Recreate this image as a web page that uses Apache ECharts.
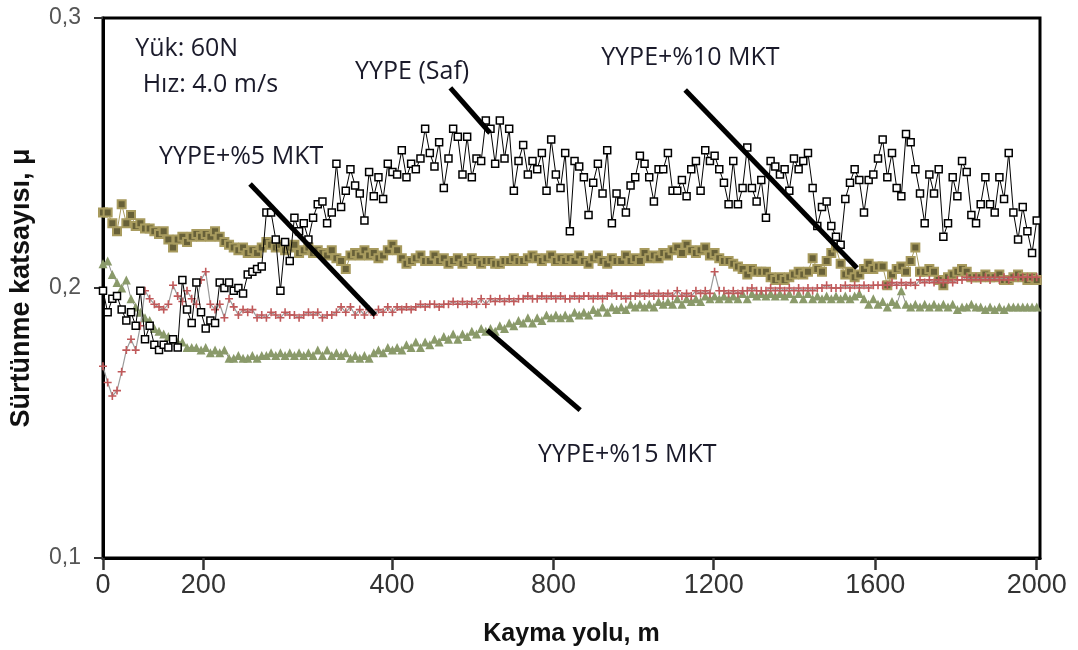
<!DOCTYPE html>
<html><head><meta charset="utf-8">
<script src="https://cdn.jsdelivr.net/npm/echarts@6/dist/echarts.min.js"></script>
<style>html,body{margin:0;padding:0;background:#fff}#c{width:1078px;height:650px}</style>
</head><body><div id="c"></div>
<script>
// Axis tick labels and where they sit on the (picture-linear) distance axis
const xTickLabels = ['0','200','400','800','1200','1600','2000'];
const xTickPositions = [0, 215, 619, 965, 1308, 1654, 2000];
const yTickValues = [0.1, 0.2, 0.3];
const distanceStep = 10; // sampling distance between recorded points (axis units)

const seriesNames = ['YYPE (Saf)', 'YYPE+%5 MKT', 'YYPE+%10 MKT', 'YYPE+%15 MKT'];

const frictionSaf = [
0.199,0.191,0.196,0.197,0.192,0.188,0.191,0.186,0.199,0.181,
0.186,0.179,0.177,0.179,0.178,0.181,0.178,0.203,0.192,0.187,
0.202,0.191,0.185,0.188,0.187,0.202,0.200,0.202,0.199,0.200,
0.198,0.205,0.206,0.207,0.208,0.228,0.228,0.218,0.199,0.217,
0.210,0.226,0.221,0.224,0.218,0.226,0.231,0.232,0.224,0.228,
0.246,0.230,0.236,0.244,0.238,0.235,0.225,0.243,0.234,0.241,
0.233,0.246,0.243,0.242,0.251,0.241,0.246,0.244,0.248,0.259,
0.250,0.245,0.254,0.237,0.248,0.259,0.256,0.242,0.256,0.241,
0.248,0.247,0.262,0.259,0.246,0.262,0.248,0.259,0.236,0.247,
0.253,0.242,0.247,0.244,0.250,0.236,0.255,0.242,0.237,0.250,
0.221,0.247,0.245,0.241,0.227,0.239,0.246,0.235,0.251,0.224,
0.235,0.232,0.228,0.238,0.241,0.249,0.246,0.241,0.232,0.244,
0.244,0.250,0.236,0.236,0.240,0.234,0.244,0.247,0.236,0.251,
0.247,0.249,0.244,0.239,0.231,0.247,0.231,0.237,0.252,0.237,
0.232,0.240,0.226,0.247,0.245,0.242,0.244,0.236,0.248,0.244,
0.247,0.250,0.237,0.223,0.230,0.232,0.223,0.219,0.216,0.233,
0.239,0.244,0.240,0.228,0.240,0.242,0.248,0.255,0.241,0.250,
0.237,0.234,0.257,0.254,0.244,0.235,0.224,0.242,0.235,0.244,
0.219,0.224,0.241,0.234,0.247,0.243,0.227,0.224,0.231,0.241,
0.231,0.228,0.241,0.233,0.250,0.228,0.218,0.230,0.221,0.213,0.225];

const friction5 = [
0.171,0.165,0.160,0.162,0.169,0.177,0.181,0.177,0.186,0.199,
0.196,0.194,0.193,0.192,0.194,0.201,0.197,0.195,0.199,0.196,
0.194,0.203,0.206,0.194,0.192,0.194,0.189,0.196,0.193,0.190,
0.192,0.191,0.192,0.189,0.190,0.189,0.191,0.190,0.189,0.191,
0.190,0.190,0.189,0.190,0.191,0.190,0.191,0.189,0.190,0.190,
0.191,0.193,0.191,0.193,0.190,0.192,0.190,0.192,0.190,0.192,
0.191,0.193,0.191,0.193,0.192,0.193,0.192,0.193,0.194,0.193,
0.194,0.194,0.193,0.194,0.194,0.195,0.194,0.195,0.194,0.195,
0.194,0.196,0.194,0.196,0.195,0.196,0.195,0.196,0.195,0.196,
0.196,0.197,0.196,0.196,0.197,0.196,0.197,0.196,0.197,0.196,
0.196,0.197,0.196,0.197,0.197,0.196,0.197,0.196,0.197,0.198,
0.197,0.197,0.196,0.197,0.197,0.198,0.197,0.198,0.197,0.198,
0.197,0.198,0.197,0.199,0.197,0.198,0.197,0.199,0.198,0.199,
0.198,0.206,0.199,0.199,0.198,0.199,0.198,0.199,0.199,0.200,
0.199,0.199,0.199,0.200,0.199,0.200,0.199,0.200,0.199,0.200,
0.199,0.200,0.199,0.200,0.200,0.201,0.200,0.200,0.200,0.201,
0.200,0.201,0.200,0.201,0.200,0.201,0.201,0.201,0.201,0.202,
0.201,0.202,0.201,0.202,0.201,0.203,0.202,0.203,0.202,0.203,
0.202,0.203,0.202,0.203,0.203,0.204,0.203,0.204,0.203,0.204,
0.203,0.204,0.203,0.204,0.203,0.204,0.204,0.204,0.204,0.204,0.204];

const friction10 = [
0.228,0.228,0.224,0.221,0.231,0.224,0.227,0.223,0.224,0.222,
0.222,0.221,0.220,0.221,0.218,0.215,0.218,0.219,0.217,0.219,
0.220,0.219,0.220,0.219,0.221,0.219,0.217,0.216,0.215,0.214,
0.215,0.213,0.214,0.213,0.215,0.217,0.216,0.215,0.216,0.214,
0.215,0.216,0.213,0.214,0.215,0.213,0.214,0.213,0.212,0.214,
0.211,0.210,0.207,0.212,0.213,0.212,0.214,0.212,0.213,0.211,
0.212,0.214,0.216,0.214,0.211,0.209,0.210,0.211,0.212,0.210,
0.210,0.212,0.210,0.211,0.209,0.210,0.211,0.209,0.210,0.211,
0.210,0.209,0.210,0.210,0.209,0.209,0.210,0.210,0.211,0.210,
0.210,0.211,0.212,0.211,0.210,0.211,0.212,0.210,0.211,0.210,
0.211,0.210,0.212,0.210,0.209,0.211,0.212,0.210,0.209,0.211,
0.210,0.210,0.212,0.210,0.211,0.210,0.213,0.211,0.212,0.211,
0.213,0.212,0.214,0.215,0.213,0.216,0.214,0.213,0.214,0.215,
0.212,0.213,0.211,0.210,0.210,0.209,0.208,0.207,0.205,0.207,
0.206,0.206,0.206,0.204,0.203,0.204,0.203,0.204,0.205,0.206,
0.205,0.206,0.211,0.207,0.206,0.210,0.213,0.215,0.209,0.205,
0.206,0.204,0.205,0.207,0.209,0.207,0.208,0.208,0.201,0.205,
0.207,0.208,0.206,0.210,0.215,0.206,0.206,0.207,0.206,0.203,
0.201,0.204,0.205,0.206,0.207,0.206,0.204,0.204,0.204,0.205,
0.204,0.204,0.205,0.203,0.203,0.204,0.205,0.204,0.203,0.204,0.203];

const friction15 = [
0.209,0.210,0.205,0.202,0.200,0.203,0.196,0.193,0.191,0.189,
0.188,0.185,0.184,0.183,0.182,0.181,0.180,0.180,0.178,0.178,
0.178,0.177,0.178,0.176,0.177,0.176,0.177,0.174,0.174,0.175,
0.174,0.174,0.175,0.174,0.175,0.175,0.176,0.175,0.176,0.175,
0.176,0.175,0.176,0.175,0.176,0.175,0.177,0.175,0.177,0.175,
0.176,0.175,0.176,0.174,0.175,0.174,0.175,0.174,0.176,0.177,
0.176,0.178,0.177,0.178,0.177,0.179,0.178,0.180,0.178,0.180,
0.179,0.181,0.180,0.182,0.181,0.183,0.181,0.183,0.182,0.184,
0.183,0.185,0.184,0.185,0.184,0.186,0.185,0.187,0.186,0.188,
0.187,0.189,0.187,0.189,0.188,0.190,0.189,0.190,0.189,0.190,
0.189,0.191,0.190,0.191,0.190,0.192,0.191,0.193,0.191,0.193,
0.192,0.193,0.192,0.194,0.193,0.194,0.193,0.194,0.193,0.195,
0.194,0.195,0.194,0.196,0.194,0.196,0.195,0.196,0.195,0.197,
0.196,0.197,0.196,0.197,0.196,0.197,0.196,0.198,0.196,0.198,
0.197,0.198,0.197,0.198,0.197,0.198,0.197,0.198,0.196,0.198,
0.196,0.198,0.196,0.197,0.196,0.197,0.196,0.197,0.196,0.197,
0.196,0.197,0.198,0.196,0.194,0.196,0.194,0.195,0.193,0.195,
0.194,0.199,0.194,0.193,0.194,0.193,0.194,0.193,0.194,0.193,
0.194,0.193,0.194,0.192,0.193,0.193,0.194,0.193,0.193,0.192,
0.193,0.192,0.193,0.192,0.193,0.193,0.193,0.193,0.193,0.193,0.193];

// Text annotations (data coordinates of left / middle of text)
const annotationTexts = ['Yük: 60N', 'Hız: 4.0 m/s', 'YYPE (Saf)', 'YYPE+%10 MKT', 'YYPE+%5 MKT', 'YYPE+%15 MKT'];
const annotationAt = [[69,0.2885],[85,0.2752],[540,0.2800],[1067,0.2852],[120,0.2485],[932,0.1381]];
// Leader lines (data coordinates of both ends)
const leaderLines = [
  [[744,0.2741],[829,0.2574]],
  [[1247,0.2733],[1615,0.2074]],
  [[315,0.2385],[583,0.1900]],
  [[823,0.1844],[1022,0.1548]]
];

function pairs(arr){ return arr.map((v,i)=>[i*distanceStep, v]); }

const chart = echarts.init(document.getElementById('c'), null, {renderer:'canvas'});
const crossPath = 'path://M4,0H6V4H10V6H6V10H4V6H0V4H4Z';

const series = [
  {name: seriesNames[2], type:'line', data: pairs(friction10), symbol:'rect', symbolSize:8,
   itemStyle:{color:'#676038', borderColor:'#a89b5e', borderWidth:2},
   lineStyle:{color:'#a89b5e', width:1}, z:2},
  {name: seriesNames[3], type:'line', data: pairs(friction15), symbol:'triangle', symbolSize:9,
   itemStyle:{color:'#8a9a6a'}, lineStyle:{color:'#8c8c8c', width:1}, z:3},
  {name: seriesNames[1], type:'line', data: pairs(friction5), symbol: crossPath, symbolSize:8,
   itemStyle:{color:'#c0595a'}, lineStyle:{color:'#9a9a9a', width:1.2}, z:4},
  {name: seriesNames[0], type:'line', data: pairs(frictionSaf), symbol:'rect', symbolSize:7,
   itemStyle:{color:'#ffffff', borderColor:'#000', borderWidth:1.5},
   lineStyle:{color:'#000', width:1}, z:5}
];
leaderLines.forEach(seg => series.push({type:'line', data: seg, symbol:'none', silent:true,
   lineStyle:{color:'#000', width:5}, z:6}));

chart.setOption({
  animation:false,
  backgroundColor:'#fff',
  grid:{left:103, right:38, top:18, bottom:92, outerBoundsMode:'none', containLabel:false,
        show:true, borderColor:'#000', borderWidth:3},
  xAxis:{type:'value', min:0, max:2007,
    name:'Kayma yolu, m', nameLocation:'middle', nameGap:64,
    nameTextStyle:{fontFamily:'Liberation Sans', fontWeight:'bold', fontSize:25, color:'#111'},
    axisLine:{show:true, lineStyle:{color:'#000', width:3}},
    axisTick:{show:true, length:12, inside:false, customValues: xTickPositions, lineStyle:{color:'#333', width:2.5}},
    axisLabel:{customValues: xTickPositions, margin:14, fontFamily:'Liberation Sans', fontSize:27, color:'#333',
      formatter: v => { const k = xTickPositions.findIndex(p => Math.abs(p - v) < 0.5); return k >= 0 ? xTickLabels[k] : ''; }},
    splitLine:{show:false}},
  yAxis:{type:'value', min:yTickValues[0], max:yTickValues[yTickValues.length-1], interval:0.1,
    name:'Sürtünme katsayısı, μ', nameLocation:'middle', nameGap:68,
    nameTextStyle:{fontFamily:'Liberation Sans', fontWeight:'bold', fontSize:27, color:'#111'},
    axisLine:{show:true, lineStyle:{color:'#000', width:3}},
    axisTick:{show:true, length:9, lineStyle:{color:'#333', width:2}},
    axisLabel:{margin:22, fontFamily:'Liberation Sans', fontSize:23, color:'#555',
      formatter: v => v.toFixed(1).replace('.', ',')},
    splitLine:{show:false}},
  series: series
});

const graphics = annotationTexts.map((t,i) => {
  const p = chart.convertToPixel({xAxisIndex:0, yAxisIndex:0}, annotationAt[i]);
  return {type:'text', x:p[0], y:p[1], z:100,
    style:{text:t, fontFamily:'Open Sans', fontSize:25, fill:'#1a1a2a', textAlign:'left', textVerticalAlign:'middle'}};
});
chart.setOption({graphic: graphics});
</script></body></html>
